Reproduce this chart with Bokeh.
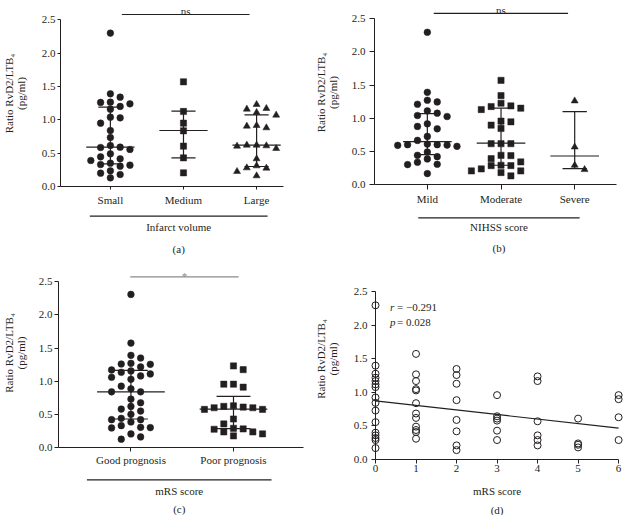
from bokeh.plotting import figure
from bokeh.models import Range1d, FixedTicker, PrintfTickFormatter
from bokeh.layouts import column, row
from bokeh.core.properties import value
from bokeh.embed import file_html
from bokeh.resources import INLINE

# ---------------- data ----------------
# (a) infarct volume
a_categories = ["Small", "Medium", "Large"]
a_small = [2.30, 1.39, 1.34, 1.26, 1.24, 1.265, 1.20, 1.16, 1.03, 1.04, 0.95, 0.84, 0.735,
           0.615, 0.585, 0.59, 0.555, 0.49, 0.415, 0.445, 0.39, 0.35, 0.305, 0.32, 0.33,
           0.235, 0.20, 0.18, 0.13]
a_medium = [1.57, 1.125, 0.95, 0.835, 0.605, 0.43, 0.205]
a_large = [1.23, 1.17, 1.16, 1.11, 1.07, 0.915, 0.88, 0.905, 0.62, 0.61, 0.62, 0.605, 0.57,
           0.415, 0.31, 0.28, 0.275, 0.225, 0.16]
a_median = [0.59, 0.84, 0.62]
a_q1 = [0.34, 0.43, 0.30]
a_q3 = [1.19, 1.13, 1.075]

# (b) NIHSS score
b_categories = ["Mild", "Moderate", "Severe"]
b_mild = [2.295, 1.39, 1.245, 1.27, 1.21, 1.075, 1.11, 1.025, 1.04, 0.875, 0.915, 0.84, 0.725,
          0.665, 0.61, 0.60, 0.595, 0.575, 0.59, 0.60, 0.49, 0.42, 0.44, 0.385, 0.335, 0.305,
          0.30, 0.165]
b_moderate = [1.57, 1.34, 1.225, 1.15, 1.175, 1.185, 1.13, 0.945, 0.895, 0.955, 0.845, 0.615,
              0.615, 0.615, 0.44, 0.435, 0.39, 0.34, 0.285, 0.235, 0.29, 0.285, 0.205, 0.205,
              0.18, 0.13]
b_severe = [1.26, 0.565, 0.29, 0.225]
b_median = [0.645, 0.625, 0.43]
b_q1 = [0.45, 0.29, 0.24]
b_q3 = [1.07, 1.15, 1.10]

# (c) mRS prognosis
c_categories = ["Good prognosis", "Poor prognosis"]
c_good = [2.31, 1.575, 1.39, 1.35, 1.255, 1.27, 1.26, 1.215, 1.155, 1.17, 1.11, 1.135, 1.08,
          1.06, 1.03, 0.925, 0.885, 0.84, 0.84, 0.73, 0.675, 0.62, 0.58, 0.55, 0.50, 0.42,
          0.42, 0.44, 0.385, 0.33, 0.305, 0.295, 0.30, 0.205, 0.16, 0.125]
c_poor = [1.23, 1.175, 0.955, 0.91, 0.955, 0.63, 0.61, 0.60, 0.575, 0.62, 0.575, 0.60, 0.43,
          0.355, 0.275, 0.235, 0.235, 0.28, 0.29, 0.205, 0.175]
c_median = [0.84, 0.58]
c_q1 = [0.43, 0.285]
c_q3 = [1.165, 0.77]

# (d) ratio by mRS score
d_score0 = [2.30, 1.40, 1.28, 1.22, 1.17, 1.12, 1.08, 0.925, 0.845, 0.73, 0.557, 0.40, 0.36,
            0.32, 0.29, 0.17]
d_score1 = [1.575, 1.27, 1.17, 1.05, 1.03, 0.84, 0.686, 0.62, 0.49, 0.44, 0.41, 0.31]
d_score2 = [1.35, 1.26, 1.13, 0.885, 0.59, 0.42, 0.21, 0.14]
d_score3 = [0.96, 0.645, 0.61, 0.58, 0.43, 0.29]
d_score4 = [1.24, 1.17, 0.57, 0.36, 0.29, 0.21]
d_score5 = [0.61, 0.24, 0.22, 0.18]
d_score6 = [0.96, 0.90, 0.63, 0.29]
d_ticks = [0, 1, 2, 3, 4, 5, 6]
d_fit_intercept = 0.875
d_fit_slope = -0.068
d_r_text = "= \u22120.291"
d_p_text = "= 0.028"

y_ticks = [0.0, 0.5, 1.0, 1.5, 2.0, 2.5]

# ---------------- style ----------------
FONT = "Liberation Serif"
INK = "#231f20"
FS = "11px"
Y_LABEL = "Ratio RvD2/LTB\u2084\n(pg/ml)"


def style_axis(ax, tick_out=3, standoff=3):
    ax.axis_line_color = INK
    ax.axis_line_width = 1
    ax.major_tick_line_color = INK
    ax.major_tick_out = tick_out
    ax.major_tick_in = 0
    ax.minor_tick_line_color = None
    ax.minor_tick_out = 0
    ax.minor_tick_in = 0
    ax.major_label_standoff = standoff
    ax.major_label_text_font = FONT
    ax.major_label_text_font_size = FS
    ax.major_label_text_color = INK
    ax.axis_label_text_font = FONT
    ax.axis_label_text_font_size = FS
    ax.axis_label_text_font_style = "normal"
    ax.axis_label_text_color = INK


def swarm(vals, ypx, xpx, dx=10.0, dy=7.0, step=5.0):
    n = len(vals)
    order = sorted(range(n), key=lambda i: -vals[i])
    placed = []
    offs = [0.0] * n
    flip = 1
    for i in order:
        y = vals[i] * ypx
        chosen = 0.0
        cands = [0.0]
        for m in range(1, 30):
            cands += [flip * m * step, -flip * m * step]
        for c in cands:
            if all(abs(c - px) >= dx or abs(y - py) >= dy for px, py in placed):
                chosen = c
                break
        if chosen != 0:
            flip = -flip
        placed.append((chosen, y))
        offs[i] = chosen / xpx
    return offs


def new_fig(xr, y1, width, height, left, right, bottom):
    p = figure(width=width, height=height, x_range=xr, y_range=Range1d(0, y1),
               output_backend="svg", toolbar_location=None,
               min_border_left=left, min_border_right=right, min_border_top=0,
               min_border_bottom=bottom)
    p.grid.visible = False
    p.outline_line_color = None
    p.background_fill_color = "white"
    p.border_fill_color = "white"
    return p


def y_axis(p, tick_out, tick_standoff, label_standoff):
    ax = p.yaxis[0]
    style_axis(ax, tick_out=tick_out, standoff=tick_standoff)
    ax.ticker = FixedTicker(ticks=y_ticks)
    ax.formatter = PrintfTickFormatter(format="%.1f")
    ax.bounds = (0, 2.5)
    ax.axis_label = Y_LABEL
    ax.axis_label_standoff = label_standoff
    ax.axis_label_text_line_height = 0.95


def footer(xr, width, height, label, label_y, letter, letter_y, text_x, line=None):
    """Below-axis group line, group label and panel letter (y in px from the top)."""
    f = figure(width=width, height=height, x_range=xr, y_range=Range1d(height, 0),
               output_backend="svg", toolbar_location=None, x_axis_type=None,
               y_axis_type=None, min_border=0)
    f.grid.visible = False
    f.outline_line_color = None
    f.background_fill_color = "white"
    f.border_fill_color = "white"
    if line is not None:
        (gx0, gx1), gy = line
        f.segment(x0=[gx0], y0=[gy], x1=[gx1], y1=[gy], line_color=INK, line_width=1.2)
    f.text(x=[text_x, text_x], y=[label_y, letter_y], text=[label, letter],
           text_font=value(FONT), text_font_size=FS, text_color=INK,
           text_align="center", text_baseline="middle")
    return f


def dot_panel(groups, markers, sizes, med, q1, q3, cats, x0, x1, y1, width, height,
              left, right, bottom, tick_out, ytick_standoff, ylab_standoff, tick_standoff,
              sig_text, sig_x, sig_color, sig_bar_px, sig_text_px):
    xr = Range1d(x0, x1)
    p = new_fig(xr, y1, width, height, left, right, bottom)
    frame_w = width - left - right
    frame_h = height - bottom
    xpx = frame_w / (x1 - x0)
    ypx = frame_h / y1
    y_axis(p, tick_out, ytick_standoff, ylab_standoff)

    xa = p.xaxis[0]
    style_axis(xa, tick_out=tick_out, standoff=tick_standoff)
    ticks = list(range(1, len(cats) + 1))
    xa.ticker = FixedTicker(ticks=ticks)
    xa.major_label_overrides = {t: c for t, c in zip(ticks, cats)}

    for gi, (vals, mk, sz) in enumerate(zip(groups, markers, sizes)):
        offs = swarm(vals, ypx, xpx)
        xs = [gi + 1 + o for o in offs]
        p.scatter(xs, vals, marker=mk, size=sz, fill_color=INK, line_color=INK, line_width=0.5)

    for gi in range(len(cats)):
        xc = gi + 1
        p.segment(x0=[xc - 0.33], y0=[med[gi]], x1=[xc + 0.33], y1=[med[gi]],
                  line_color=INK, line_width=1.2)
        p.segment(x0=[xc - 0.165, xc - 0.165, xc], y0=[q1[gi], q3[gi], q1[gi]],
                  x1=[xc + 0.165, xc + 0.165, xc], y1=[q1[gi], q3[gi], q3[gi]],
                  line_color=INK, line_width=1.2)

    # significance bar and its mark (placed in px below the frame top)
    bar_y = y1 - sig_bar_px / ypx
    txt_y = y1 - sig_text_px / ypx
    p.segment(x0=[sig_x[0]], y0=[bar_y], x1=[sig_x[1]], y1=[bar_y], line_color=sig_color,
              line_width=1.2)
    p.text(x=[(sig_x[0] + sig_x[1]) / 2], y=[txt_y], text=[sig_text],
           text_font=value(FONT), text_font_size=FS, text_color=sig_color,
           text_align="center", text_baseline="alphabetic")
    return p, xr


# (a)  -- column 1, row 1 : 312 x 258
pa, xra = dot_panel([a_small, a_medium, a_large], ["circle", "square", "triangle"],
                    [6.7, 6.2, 7.0], a_median, a_q1, a_q3, a_categories,
                    0.3177, 3.368, 2.789, 312, 208, 55, 29, 22, 3, 2, 12, 4,
                    "ns", (1.157, 2.904), INK, 14, 10.5)
fa = footer(xra, 312, 50, "Infarct volume", 18, "(a)", 40, (0.719 + 3.150) / 2,
            line=((0.719, 3.150), 7.7))

# (b)  -- column 2, row 1 : 311 x 258
pb, xrb = dot_panel([b_mild, b_moderate, b_severe], ["circle", "square", "triangle"],
                    [6.7, 6.2, 7.0], b_median, b_q1, b_q3, b_categories,
                    0.2828, 3.5674, 2.774, 311, 207, 59, 7, 22, 5, 4, 10, 3,
                    "ns", (1.087, 2.910), INK, 13, 9.5)
fb = footer(xrb, 311, 51, "NIHSS score", 19, "(b)", 40.5, (0.877 + 3.067) / 2,
            line=((0.877, 3.067), 10.3))

# (c)  -- column 1, row 2 : 312 x 257
pc, xrc = dot_panel([c_good, c_poor], ["circle", "square"], [6.7, 6.2],
                    c_median, c_q1, c_q3, c_categories,
                    0.2937, 2.6827, 2.8515, 312, 211, 50, 9, 22, 4, 2, 9, 2,
                    "*", (0.993, 2.050), "#8a8a8a", 18.3, 17.5)
fc = footer(xrc, 312, 46, "mRS score", 21, "(c)", 39.5, (0.571 + 2.371) / 2,
            line=((0.571, 2.371), 10.3))

# (d)  -- column 2, row 2 : 311 x 257, scatter with regression line
xrd = Range1d(0, 6.121)
pd_ = new_fig(xrd, 2.998, 311, 223, 59, 0, 22)
y_axis(pd_, 4, 4, 12)
xd = pd_.xaxis[0]
style_axis(xd, tick_out=4, standoff=1)
xd.ticker = FixedTicker(ticks=d_ticks)
xd.bounds = (0, 6)

d_groups = [d_score0, d_score1, d_score2, d_score3, d_score4, d_score5, d_score6]
dx_vals = []
dy_vals = []
for s, vals in zip(d_ticks, d_groups):
    dx_vals += [s] * len(vals)
    dy_vals += vals
pd_.scatter(dx_vals, dy_vals, marker="circle", size=7, fill_color=None, line_color=INK,
            line_width=1, level="overlay")
fit_x = [d_ticks[0], d_ticks[-1]]
fit_y = [d_fit_intercept + d_fit_slope * v for v in fit_x]
pd_.line(fit_x, fit_y, line_color=INK, line_width=1.2)

pd_.text(x=[0.36, 0.36], y=[2.27, 2.05], text=["r", "p"], text_font=value(FONT),
         text_font_size=FS, text_font_style="italic", text_color=INK,
         text_align="left", text_baseline="middle")
pd_.text(x=[0.36, 0.36], y=[2.27, 2.05], text=[d_r_text, d_p_text], text_font=value(FONT),
         text_font_size=FS, text_color=INK, text_align="left", text_baseline="middle",
         x_offset=7)
fd = footer(xrd, 311, 34, "mRS score", 9, "(d)", 28, 3)

layout = column(row(column(pa, fa), column(pb, fb)), row(column(pc, fc), column(pd_, fd)))
open("out.html", "w").write(file_html(layout, INLINE))
